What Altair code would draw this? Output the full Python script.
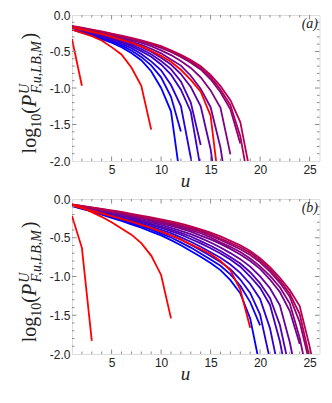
import altair as alt
import pandas as pd

# ---------------- data ----------------
# every list starts at u = 1 and steps by 1
A_FAMILY = [
    [-0.20, -0.24, -0.28, -0.33, -0.38, -0.44, -0.52, -0.62, -0.77, -1.00, -1.32, -2.30],
    [-0.195, -0.233, -0.271, -0.316, -0.363, -0.417, -0.486, -0.574, -0.690, -0.854, -1.121, -1.596],
    [-0.19, -0.226, -0.262, -0.304, -0.349, -0.396, -0.454, -0.534, -0.635, -0.758, -0.959, -1.247, -1.955, -3.25],
    [-0.185, -0.219, -0.252, -0.290, -0.332, -0.374, -0.426, -0.495, -0.573, -0.677, -0.815, -1.024, -1.325, -2.11],
    [-0.18, -0.213, -0.246, -0.280, -0.320, -0.360, -0.408, -0.466, -0.537, -0.631, -0.742, -0.910, -1.20, -1.78],
    [-0.175, -0.206, -0.237, -0.268, -0.308, -0.347, -0.389, -0.438, -0.504, -0.586, -0.679, -0.808, -0.985, -1.250, -1.836, -2.82],
    [-0.17, -0.199, -0.227, -0.256, -0.293, -0.327, -0.364, -0.410, -0.463, -0.525, -0.609, -0.693, -0.832, -1.012, -1.263, -1.817, -2.71],
    [-0.165, -0.193, -0.220, -0.246, -0.279, -0.312, -0.345, -0.383, -0.427, -0.484, -0.549, -0.631, -0.725, -0.853, -1.033, -1.270, -1.91],
    [-0.16, -0.186, -0.212, -0.237, -0.265, -0.298, -0.329, -0.362, -0.403, -0.451, -0.506, -0.576, -0.653, -0.745, -0.881, -1.058, -1.292, -1.76],
    [-0.155, -0.181, -0.205, -0.231, -0.260, -0.292, -0.323, -0.354, -0.395, -0.435, -0.496, -0.563, -0.638, -0.729, -0.852, -1.020, -1.236, -1.659, -2.42],
    [-0.15, -0.174, -0.200, -0.224, -0.254, -0.283, -0.315, -0.346, -0.385, -0.426, -0.483, -0.544, -0.618, -0.703, -0.820, -0.973, -1.166, -1.467, -2.167],
]
A_RED = [
    [-0.33, -0.97],
    [-0.20, -0.245, -0.29, -0.35, -0.44, -0.54, -0.72, -0.97, -1.57],
    [-0.17, -0.20, -0.23, -0.26, -0.30, -0.34, -0.38, -0.43, -0.49, -0.56, -0.64, -0.75, -0.89, -1.05, -1.38, -2.5],
]
B_FAMILY = [
    [-0.09, -0.126, -0.161, -0.203, -0.243, -0.283, -0.327, -0.371, -0.420, -0.470, -0.531, -0.596, -0.671, -0.745, -0.827, -0.917, -1.047, -1.217, -1.542, -2.17],
    [-0.088, -0.121, -0.155, -0.193, -0.229, -0.270, -0.310, -0.352, -0.396, -0.446, -0.497, -0.560, -0.627, -0.702, -0.780, -0.862, -0.973, -1.119, -1.331, -1.63],
    [-0.086, -0.119, -0.149, -0.186, -0.220, -0.256, -0.295, -0.333, -0.377, -0.423, -0.469, -0.522, -0.591, -0.662, -0.735, -0.813, -0.905, -1.039, -1.211, -1.491, -2.077],
    [-0.085, -0.116, -0.144, -0.177, -0.211, -0.246, -0.278, -0.317, -0.355, -0.399, -0.441, -0.495, -0.552, -0.617, -0.686, -0.759, -0.845, -0.954, -1.096, -1.290, -1.669, -2.287],
    [-0.083, -0.110, -0.139, -0.169, -0.200, -0.233, -0.265, -0.300, -0.336, -0.374, -0.415, -0.459, -0.516, -0.572, -0.635, -0.704, -0.781, -0.873, -1.000, -1.147, -1.367, -1.839, -2.50],
    [-0.081, -0.108, -0.133, -0.162, -0.192, -0.221, -0.254, -0.286, -0.321, -0.355, -0.396, -0.436, -0.484, -0.543, -0.603, -0.672, -0.747, -0.833, -0.945, -1.088, -1.277, -1.626, -2.211],
    [-0.079, -0.104, -0.129, -0.156, -0.183, -0.210, -0.240, -0.271, -0.302, -0.334, -0.373, -0.411, -0.454, -0.504, -0.561, -0.626, -0.698, -0.776, -0.872, -0.999, -1.151, -1.372, -1.848, -2.48],
    [-0.077, -0.100, -0.123, -0.146, -0.173, -0.196, -0.227, -0.254, -0.283, -0.314, -0.348, -0.383, -0.421, -0.473, -0.521, -0.579, -0.644, -0.715, -0.800, -0.902, -1.039, -1.200, -1.446, -1.87],
    [-0.076, -0.097, -0.120, -0.143, -0.166, -0.190, -0.218, -0.245, -0.272, -0.299, -0.332, -0.367, -0.401, -0.442, -0.497, -0.559, -0.617, -0.684, -0.769, -0.869, -0.992, -1.138, -1.350, -1.794, -2.404],
    [-0.074, -0.095, -0.116, -0.138, -0.159, -0.180, -0.209, -0.234, -0.261, -0.286, -0.317, -0.349, -0.382, -0.421, -0.473, -0.527, -0.586, -0.648, -0.723, -0.817, -0.937, -1.081, -1.262, -1.588, -2.116],
    [-0.072, -0.091, -0.112, -0.132, -0.153, -0.174, -0.199, -0.226, -0.249, -0.276, -0.305, -0.336, -0.367, -0.409, -0.452, -0.510, -0.564, -0.623, -0.695, -0.791, -0.907, -1.049, -1.223, -1.485, -2.05],
    [-0.070, -0.089, -0.109, -0.128, -0.147, -0.167, -0.192, -0.215, -0.238, -0.263, -0.288, -0.319, -0.352, -0.392, -0.435, -0.483, -0.541, -0.597, -0.672, -0.765, -0.879, -1.016, -1.176, -1.382, -1.902, -2.50],
]
B_RED = [
    [-0.22, -0.63, -1.83],
    [-0.07, -0.11, -0.17, -0.23, -0.30, -0.38, -0.46, -0.57, -0.73, -0.98, -1.54],
    [-0.085, -0.118, -0.15, -0.185, -0.22, -0.255, -0.293, -0.333, -0.375, -0.42, -0.47, -0.525, -0.585, -0.645, -0.71, -0.80, -0.92, -1.17, -1.66],
]
X_DOMAIN = [1, 26]
Y_DOMAIN = [-2.0, 0.0]
X_TICK_LABELS = [5, 10, 15, 20, 25]
Y_TICK_LABELS = [-2.0, -1.5, -1.0, -0.5, 0.0]
X_MINOR = [u for u in range(2, 26) if u % 5 != 0]
Y_MINOR = [-1.9, -1.8, -1.7, -1.6, -1.4, -1.3, -1.2, -1.1, -0.9, -0.8, -0.7, -0.6, -0.4, -0.3, -0.2, -0.1]
Y_MAJOR = [-1.5, -1.0, -0.5]

# ---------------- style ----------------
W = 247.5
FRAME = "#8c8c8c"
START_RGB = (0, 0, 255)
END_RGB = (185, 0, 78)
SERIF = "Liberation Serif"
SANS = "Liberation Sans"


def blend(k, n):
    f = k / (n - 1)
    r = round(START_RGB[0] + (END_RGB[0] - START_RGB[0]) * f)
    g = round(START_RGB[1] + (END_RGB[1] - START_RGB[1]) * f)
    b = round(START_RGB[2] + (END_RGB[2] - START_RGB[2]) * f)
    return "#%02x%02x%02x" % (r, g, b)


def long_table(series_list, prefix):
    rows = []
    for i, vals in enumerate(series_list):
        for j, v in enumerate(vals):
            rows.append({"u": j + 1, "val": v, "sid": "%s%02d" % (prefix, i)})
    return pd.DataFrame(rows)


def xenc():
    return alt.X(
        "u:Q",
        scale=alt.Scale(domain=X_DOMAIN, nice=False, zero=False),
        axis=alt.Axis(
            values=X_TICK_LABELS, title="u", grid=False, domain=False, ticks=False,
            tickSize=0, labelPadding=3, labelFont=SANS, labelFontSize=12,
            labelColor="#222222", titleFont=SERIF, titleFontSize=19,
            titleFontStyle="italic", titleFontWeight="normal", titleColor="#222222",
            titleBaseline="alphabetic", titleY=25, titleX=113,
        ),
    )


def yenc():
    return alt.Y(
        "val:Q",
        scale=alt.Scale(domain=Y_DOMAIN, nice=False, zero=False),
        axis=alt.Axis(
            values=Y_TICK_LABELS, title=None, grid=False, domain=False, ticks=False,
            tickSize=0, labelPadding=2, format=".1f",
            labelExpr="replace(datum.label, '\u2212', '-')",
            labelFont=SANS, labelFontSize=12, labelColor="#222222",
        ),
    )


def panel(family, red, H, tag, prefix):
    fam = long_table(family, prefix + "f")
    rd = long_table(red, prefix + "r")
    fam_ids = sorted(fam["sid"].unique())
    fam_cols = [blend(k, len(fam_ids)) for k in range(len(fam_ids))]

    fam_layer = alt.Chart(fam).mark_line(strokeWidth=1.8, clip=True).encode(
        x=xenc(), y=yenc(),
        color=alt.Color("sid:N", scale=alt.Scale(domain=fam_ids, range=fam_cols), legend=None),
        order="u:Q",
    )
    red_layer = alt.Chart(rd).mark_line(strokeWidth=1.8, clip=True, color="#ff0000").encode(
        x=xenc(), y=yenc(), detail="sid:N", order="u:Q",
    )

    layers = [fam_layer, red_layer]

    # inward frame ticks
    def xt(vals, ln):
        d = pd.DataFrame({"u": vals})
        b = alt.Chart(d).mark_rule(color=FRAME, strokeWidth=1).encode(
            x=xenc(), y=alt.value(H), y2=alt.value(H - ln))
        t = alt.Chart(d).mark_rule(color=FRAME, strokeWidth=1).encode(
            x=xenc(), y=alt.value(0), y2=alt.value(ln))
        return [b, t]

    def yt(vals, ln):
        d = pd.DataFrame({"val": vals})
        l = alt.Chart(d).mark_rule(color=FRAME, strokeWidth=1).encode(
            y=yenc(), x=alt.value(0), x2=alt.value(ln))
        r = alt.Chart(d).mark_rule(color=FRAME, strokeWidth=1).encode(
            y=yenc(), x=alt.value(W), x2=alt.value(W - ln))
        return [l, r]

    layers += xt(X_MINOR, 2.5) + xt(X_TICK_LABELS, 4.5)
    layers += yt(Y_MINOR, 2.5) + yt(Y_MAJOR, 4.5)

    # rotated y-axis title: log10(P^U_{F,u,LB,M})
    one = pd.DataFrame({"k": [0]})
    start = H * 0.537 + 60
    xb = -35.7

    def piece(txt, off, xpos, size, style):
        return alt.Chart(one).mark_text(
            text=txt, angle=270, align="left", baseline="alphabetic",
            font=SERIF, fontSize=size, fontStyle=style, color="#222222",
        ).encode(x=alt.value(xpos), y=alt.value(start - off))

    layers += [
        piece("log", 0, xb, 20, "normal"),
        piece("10", 25.6, xb + 4.2, 14, "normal"),
        piece("(", 39.6, xb, 20, "normal"),
        piece("P", 46.3, xb, 20, "italic"),
        piece("U", 59.5, xb - 7.3, 14, "italic"),
        piece("F,u,LB,M", 60.0, xb + 5.0, 14, "italic"),
        piece(")", 114.0, xb, 20, "normal"),
    ]
    # panel tag
    layers.append(
        alt.Chart(one).mark_text(
            text=tag, align="right", baseline="middle", font=SERIF, fontSize=14,
            fontStyle="italic", color="#222222",
        ).encode(x=alt.value(W - 1.5), y=alt.value(8.5))
    )
    return alt.layer(*layers).properties(width=W, height=H)


top = panel(A_FAMILY, A_RED, 146, "(a)", "a")
bottom = panel(B_FAMILY, B_RED, 155, "(b)", "b")

chart = alt.vconcat(top, bottom, spacing=1).resolve_scale(color="independent").properties(
    padding={"left": 9, "top": 0, "right": 2, "bottom": 2}
).configure_view(stroke=FRAME, strokeWidth=1).configure(background="white")

chart.save("out.html", embed_options={"renderer": "svg", "actions": False})
